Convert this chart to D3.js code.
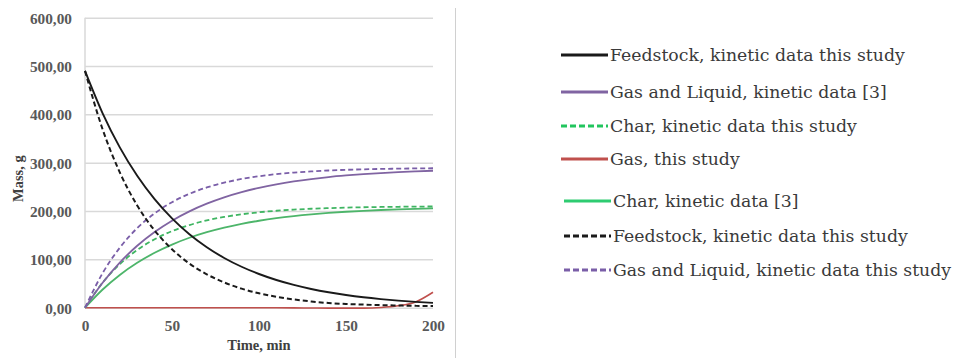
<!DOCTYPE html>
<html>
<head>
<meta charset="utf-8">
<script src="https://cdn.jsdelivr.net/npm/d3@7"></script>
<style>
  html, body { margin: 0; padding: 0; background: #fff; }
  svg { display: block; }
  .tick text { font-family: "Liberation Serif", serif; font-weight: bold; font-size: 15.3px; fill: #595959; }
  .axis-title { font-family: "Liberation Serif", serif; font-weight: bold; font-size: 14.5px; fill: #404040; }
  .legend-text { font-family: "DejaVu Serif", serif; font-size: 17.3px; fill: #3a3a3a; }
</style>
</head>
<body>
<svg id="chart"></svg>
<script>
// Data (time in min, mass in g)
const times = [0, 10, 20, 30, 40, 50, 60, 70, 80, 90, 100, 110, 120, 130, 140, 150, 160, 170, 180, 190, 200];

const feedstock3 = [490, 403.2, 331.7, 272.9, 224.6, 184.8, 152.0, 125.1, 102.9, 84.7, 69.7, 57.3, 47.2, 38.8, 31.9, 26.3, 21.6, 17.8, 14.6, 12.0, 9.9];
const gasLiquid3 = [0, 51.2, 93.4, 128.1, 156.6, 180.1, 199.4, 215.3, 228.4, 239.1, 248.0, 255.3, 261.3, 266.2, 270.3, 273.6, 276.4, 278.6, 280.5, 282.0, 283.3];
const char3 = [0, 37.1, 67.8, 92.9, 113.6, 130.6, 144.7, 156.2, 165.7, 173.5, 179.9, 185.2, 189.5, 193.1, 196.1, 198.5, 200.5, 202.1, 203.5, 204.6, 205.5];
const feedstockStudy = [490, 370.3, 279.9, 211.5, 159.9, 120.8, 91.3, 69.0, 52.2, 39.4, 29.8, 22.5, 17.0, 12.9, 9.7, 7.8, 6.4, 5.3, 4.5, 3.8, 3.3];
const gasLiquidStudy = [0, 70.7, 124.2, 164.6, 195.1, 218.2, 235.6, 248.8, 258.7, 266.3, 272.0, 276.3, 279.5, 282.0, 283.9, 285.3, 286.3, 287.1, 287.7, 288.2, 288.5];
const charStudy = [0, 51.4, 90.1, 119.5, 141.6, 158.4, 171.0, 180.6, 187.8, 193.3, 197.4, 200.6, 202.9, 204.7, 206.0, 207.1, 207.8, 208.4, 208.8, 209.2, 209.4];
const gasStudy = [0, 0, 0, 0, 0, 0, 0, 0, 0, 0, 0, -0.2, -0.4, -0.6, -0.8, -0.9, -0.8, 0.5, 4, 12, 32];

const xTicks = [0, 50, 100, 150, 200];
const yTicks = [0, 100, 200, 300, 400, 500, 600];

// Series: drawing order in the plot, legend order separately
const series = [
  { name: 'Gas, this study', values: gasStudy, color: '#c0504d', dash: null, width: 1.6 },
  { name: 'Char, kinetic data [3]', values: char3, color: '#4db56a', dash: null, width: 1.8 },
  { name: 'Char, kinetic data this study', values: charStudy, color: '#3fb562', dash: '5,3', width: 1.8 },
  { name: 'Gas and Liquid, kinetic data [3]', values: gasLiquid3, color: '#8064a2', dash: null, width: 1.8 },
  { name: 'Gas and Liquid, kinetic data this study', values: gasLiquidStudy, color: '#7a5ea8', dash: '5,3', width: 1.8 },
  { name: 'Feedstock, kinetic data this study', values: feedstock3, color: '#1a1a1a', dash: null, width: 1.9 },
  { name: 'Feedstock, kinetic data this study', values: feedstockStudy, color: '#1a1a1a', dash: '5,3', width: 2 }
];

const legendItems = [
  { label: 'Feedstock, kinetic data this study', color: '#1a1a1a', dash: null },
  { label: 'Gas and Liquid, kinetic data [3]', color: '#8064a2', dash: null },
  { label: 'Char, kinetic data this study', color: '#22c55e', dash: '6,3' },
  { label: 'Gas, this study', color: '#c0504d', dash: null },
  { label: 'Char, kinetic data [3]', color: '#2ecc71', dash: null },
  { label: 'Feedstock, kinetic data this study', color: '#1a1a1a', dash: '6,3' },
  { label: 'Gas and Liquid, kinetic data this study', color: '#7a5ea8', dash: '6,3' }
];

const width = 955, height = 358;
const margin = { top: 17.7, right: 522, bottom: 50.3, left: 85 };
const inner = { w: width - margin.left - margin.right, h: height - margin.top - margin.bottom };

const svg = d3.select('#chart').attr('width', width).attr('height', height);
const g = svg.append('g').attr('transform', `translate(${margin.left},${margin.top})`);

const x = d3.scaleLinear().domain([0, 200]).range([0, inner.w]);
const y = d3.scaleLinear().domain([0, 600]).range([inner.h, 0]);
const fmt = d => d3.format('.2f')(d).replace('.', ',');

// Grid lines
g.append('g')
  .call(d3.axisLeft(y).tickValues(yTicks).tickSize(-inner.w).tickFormat(''))
  .call(a => a.select('.domain').remove())
  .selectAll('line').attr('stroke', '#d9d9d9').attr('stroke-width', 1.5);

// Left axis line
g.append('line')
  .attr('x1', 0).attr('x2', 0).attr('y1', 0).attr('y2', inner.h)
  .attr('stroke', '#d9d9d9').attr('stroke-width', 1.5);

// Y axis labels
g.append('g')
  .call(d3.axisLeft(y).tickValues(yTicks).tickSize(0).tickPadding(13).tickFormat(fmt))
  .call(a => a.select('.domain').remove())
  .selectAll('text').attr('dy', '0.35em');

// X axis labels
g.append('g')
  .attr('transform', `translate(0,${inner.h})`)
  .call(d3.axisBottom(x).tickValues(xTicks).tickSize(0).tickPadding(12))
  .call(a => a.select('.domain').remove());

// Axis titles
svg.append('text').attr('class', 'axis-title')
  .attr('x', margin.left + inner.w / 2).attr('y', 350)
  .attr('text-anchor', 'middle').text('Time, min');
svg.append('text').attr('class', 'axis-title')
  .attr('transform', `translate(23,${margin.top + y(300) + 16}) rotate(-90)`)
  .attr('text-anchor', 'middle').text('Mass, g');

// Curves
const line = d3.line()
  .x((d, i) => x(times[i]))
  .y(d => y(d))
  .curve(d3.curveMonotoneX);

series.forEach(s => {
  g.append('path')
    .datum(s.values)
    .attr('d', line)
    .attr('fill', 'none')
    .attr('stroke', s.color)
    .attr('stroke-width', s.width)
    .attr('stroke-dasharray', s.dash);
});

// Separator between plot and legend
svg.append('line')
  .attr('x1', 455.5).attr('x2', 455.5).attr('y1', 8).attr('y2', 358)
  .attr('stroke', '#d0d0d0').attr('stroke-width', 1);

// Legend
const legendRows = [55, 92, 126, 159, 201, 236, 270];
legendItems.forEach((d, i) => {
  const x0 = i < 4 ? 561 : 564;
  const row = svg.append('g').attr('transform', `translate(${x0},${legendRows[i]})`);
  row.append('line')
    .attr('x1', 0).attr('x2', 47).attr('y1', 0).attr('y2', 0)
    .attr('stroke', d.color).attr('stroke-width', 3)
    .attr('stroke-dasharray', d.dash);
  row.append('text').attr('class', 'legend-text')
    .attr('x', 49).attr('y', 0).attr('dy', '0.32em')
    .text(d.label);
});
</script>
</body>
</html>
